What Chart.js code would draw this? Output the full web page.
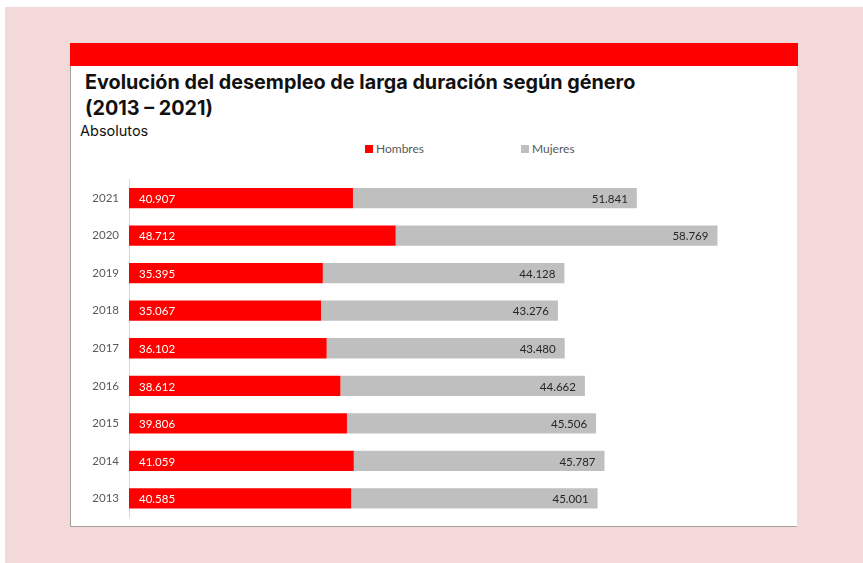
<!DOCTYPE html>
<html>
<head>
<meta charset="utf-8">
<script src="https://cdn.jsdelivr.net/npm/chart.js@4"></script>
<style>
  body { margin: 0; background: #ffffff; }
  #bg { position: absolute; left: 5px; top: 7px; width: 858px; height: 556px; background: #f4d9d9; }
  #card { position: absolute; left: 70px; top: 43px; width: 726px; height: 483px; background: #ffffff;
          border-left: 1px solid #a8a0a0; border-bottom: 1px solid #a8a0a0; }
  #band { position: absolute; left: -1px; top: 0; width: 728px; height: 23px; background: #ff0000; }
  #title { position: absolute; left: 14px; top: 26px; font-family: Inter, sans-serif; font-weight: 700;
           font-size: 19.8px; line-height: 26px; color: #111; }
  #sub { position: absolute; left: 9px; top: 79px; font-family: Inter, sans-serif; font-size: 14.5px; color: #111; }
  #legend { position: absolute; top: 98px; left: 0; width: 726px; font-family: Lato, sans-serif; font-size: 12px; color: #595959; }
  #legend span.item { position: absolute; white-space: nowrap; }
  #legend span.box { display: inline-block; width: 8px; height: 8px; margin-right: 3px; vertical-align: 0px; }
  #wrap { position: absolute; left: 0; top: 92px; width: 726px; height: 391px; }
</style>
</head>
<body>
<div id="bg"></div>
<div id="card">
  <div id="band"></div>
  <div id="title">Evolución del desempleo de larga duración según género<br>(2013 – 2021)</div>
  <div id="sub">Absolutos</div>
  <div id="legend">
    <span class="item" style="left:294px"><span class="box" style="background:#ff0000"></span>Hombres</span>
    <span class="item" style="left:450px"><span class="box" style="background:#bfbfbf"></span>Mujeres</span>
  </div>
  <div id="wrap"><canvas id="c"></canvas></div>
</div>
<script>
const years = ['2021', '2020', '2019', '2018', '2017', '2016', '2015', '2014', '2013'];
const hombres = [40907, 48712, 35395, 35067, 36102, 38612, 39806, 41059, 40585];
const mujeres = [51841, 58769, 44128, 43276, 43480, 44662, 45506, 45787, 45001];

function fmt(v) {
  return String(v).replace(/\B(?=(\d{3})+(?!\d))/g, '.');
}

// value labels: Hombres at start of bar (white), Mujeres at end (dark)
const barLabels = {
  id: 'barLabels',
  afterDatasetsDraw(chart) {
    const ctx = chart.ctx;
    ctx.save();
    ctx.font = '11.5px Lato, sans-serif';
    ctx.textBaseline = 'middle';
    chart.data.datasets.forEach((ds, i) => {
      const meta = chart.getDatasetMeta(i);
      meta.data.forEach((bar, j) => {
        if (i === 0) {
          ctx.fillStyle = '#ffffff';
          ctx.textAlign = 'left';
          ctx.fillText(fmt(ds.data[j]), bar.base + 10, bar.y + 1);
        } else {
          ctx.fillStyle = '#262626';
          ctx.textAlign = 'right';
          ctx.fillText(fmt(ds.data[j]), bar.x - 9, bar.y + 1);
        }
      });
    });
    ctx.restore();
  }
};

new Chart(document.getElementById('c'), {
  type: 'bar',
  data: {
    labels: years,
    datasets: [
      { label: 'Hombres', data: hombres, backgroundColor: '#ff0000', categoryPercentage: 1, barPercentage: 0.54 },
      { label: 'Mujeres', data: mujeres, backgroundColor: '#bfbfbf', categoryPercentage: 1, barPercentage: 0.54 }
    ]
  },
  options: {
    indexAxis: 'y',
    responsive: true,
    maintainAspectRatio: false,
    animation: false,
    layout: { padding: { left: 0, right: 11, top: 44.25, bottom: 8.75 } },
    plugins: {
      legend: { display: false },
      tooltip: { enabled: false }
    },
    scales: {
      x: { stacked: true, min: 0, max: 120000, display: false },
      y: {
        stacked: true,
        grid: { display: false, drawTicks: false },
        border: { color: '#d9d9d9' },
        ticks: { color: '#595959', font: { family: 'Lato', size: 11.5 }, padding: 10 },
        afterFit(scale) {
          scale.width = 58;
          scale.paddingTop = 0;
          scale.paddingBottom = 0;
        }
      }
    }
  },
  plugins: [barLabels]
});
</script>
</body>
</html>
